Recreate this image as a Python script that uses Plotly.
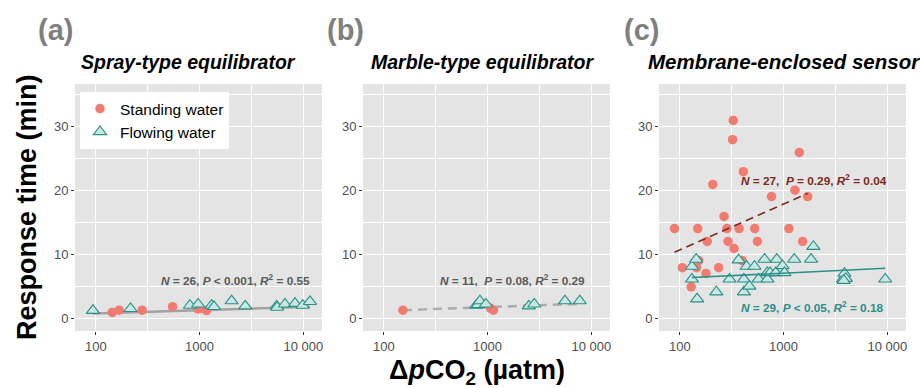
import numpy as np
import plotly.graph_objects as go

# ---------------- data ----------------
# Panel (a) Spray-type equilibrator
a_stand_x = [144, 168, 280, 550, 964, 1020, 1170]
a_stand_y = [1.0, 1.35, 1.35, 1.9, 1.55, 1.6, 1.3]
a_flow_x = [94, 216, 807, 970, 1306, 1380, 2037, 2760, 5530, 5600, 6650, 8310, 9860, 11590]
a_flow_y = [1.3, 1.6, 2.1, 2.3, 2.1, 1.9, 2.8, 2.0, 2.0, 1.8, 2.3, 2.4, 2.1, 2.7]
a_fit = (-0.18, 0.51)          # intercept, slope vs log10(x)

# Panel (b) Marble-type equilibrator
b_stand_x = [153, 1072, 1140]
b_stand_y = [1.35, 1.65, 1.35]
b_flow_x = [776, 809, 845, 964, 2497, 2820, 5570, 7740]
b_flow_y = [2.1, 2.2, 2.8, 2.3, 2.0, 2.3, 2.8, 2.8]
b_fit = (0.06, 0.59)

# Panel (c) Membrane-enclosed sensor
c_stand_x = [89, 106, 129, 145, 149, 152, 179, 184, 208, 237, 267, 285, 292, 323, 328,
             333, 373, 400, 410, 528, 560, 766, 1127, 1288, 1419, 1528, 1708]
c_stand_y = [14.1, 8.0, 5.0, 8.0, 14.1, 9.1, 7.1, 12.1, 21.0, 8.0, 16.0, 14.1, 12.1, 28.0, 31.0,
             11.0, 14.1, 9.1, 23.0, 14.1, 12.1, 19.1, 14.1, 20.1, 26.0, 12.1, 19.1]
c_flow_x = [131, 131, 144, 147, 225, 302, 369, 415, 415, 441, 468, 525, 574, 656, 696,
            700, 742, 841, 861, 977, 1020, 1268, 1841, 1938, 3724, 3863, 3990, 3800, 9550]
c_flow_y = [6.2, 8.2, 9.3, 3.1, 4.2, 6.2, 9.2, 6.2, 4.2, 8.2, 5.1, 8.2, 6.2, 9.3, 7.2,
            6.2, 7.2, 7.2, 9.3, 8.3, 7.2, 9.3, 9.3, 11.3, 6.2, 7.1, 6.3, 6.0, 6.2]
c_fit_stand = (-3.57, 7.17)
c_fit_flow = (4.8, 0.78)

x_tickvals = [100, 1000, 10000]
x_ticktext = ["100", "1000", "10 000"]
y_tickvals = [0, 10, 20, 30]

panel_titles = ["Spray-type equilibrator", "Marble-type equilibrator", "Membrane-enclosed sensor"]
panel_tags = ["(a)", "(b)", "(c)"]
stats_a = "<i>N</i> = 26, <i>P</i> &lt; 0.001, <i>R</i><sup>2</sup> = 0.55"
stats_b = "<i>N</i> = 11,  <i>P</i> = 0.08, <i>R</i><sup>2</sup> = 0.29"
stats_c_stand = "<i>N</i> = 27,  <i>P</i> = 0.29, <i>R</i><sup>2</sup> = 0.04"
stats_c_flow = "<i>N</i> = 29, <i>P</i> &lt; 0.05, <i>R</i><sup>2</sup> = 0.18"

# ---------------- style ----------------
FONT = "Liberation Sans, Arial, Helvetica, sans-serif"
RED = "#F07B70"
TEAL_LINE = "#2B8F88"
TEAL_FILL = "#C9E7E3"
W, H = 920, 388
px_x = lambda p: p / W
px_y = lambda p: 1 - p / H

xdomains = [(75, 322), (363, 610), (659, 906)]
ydom = [px_y(331), px_y(84)]

fig = go.Figure()


def fit_line(xs, coef):
    lx = np.log10(xs)
    lo, hi = lx.min(), lx.max()
    xx = np.array([lo, hi])
    return 10 ** xx, coef[0] + coef[1] * xx


def add_panel(i, sx, sy, fx, fy, legend):
    xa = "x" if i == 0 else f"x{i+1}"
    ya = "y" if i == 0 else f"y{i+1}"
    fig.add_trace(go.Scatter(x=sx, y=sy, mode="markers", name="Standing water",
                             marker=dict(symbol="circle", size=9.5, color=RED),
                             xaxis=xa, yaxis=ya, showlegend=legend, legendgroup="s"))
    fig.add_trace(go.Scatter(x=fx, y=fy, mode="markers", name="Flowing water",
                             marker=dict(symbol="triangle-up", size=11.5, color=TEAL_FILL,
                                         line=dict(color=TEAL_LINE, width=1.1)),
                             xaxis=xa, yaxis=ya, showlegend=legend, legendgroup="f"))
    return xa, ya


# regression lines first (under markers)
lx, ly = fit_line(np.array(a_stand_x + a_flow_x), a_fit)
fig.add_trace(go.Scatter(x=lx, y=ly, mode="lines", line=dict(color="rgba(150,150,150,0.85)", width=2.5),
                         xaxis="x", yaxis="y", showlegend=False))
lx, ly = fit_line(np.array(b_stand_x + b_flow_x), b_fit)
fig.add_trace(go.Scatter(x=lx, y=ly, mode="lines",
                         line=dict(color="rgba(165,165,165,0.9)", width=2.5, dash="9px,6px"),
                         xaxis="x2", yaxis="y2", showlegend=False))

add_panel(0, a_stand_x, a_stand_y, a_flow_x, a_flow_y, True)
add_panel(1, b_stand_x, b_stand_y, b_flow_x, b_flow_y, False)
add_panel(2, c_stand_x, c_stand_y, c_flow_x, c_flow_y, False)

lx, ly = fit_line(np.array(c_stand_x), c_fit_stand)
fig.add_trace(go.Scatter(x=lx, y=ly, mode="lines", line=dict(color="#7B2B20", width=1.6, dash="8px,5px"),
                         xaxis="x3", yaxis="y3", showlegend=False))
lx, ly = fit_line(np.array(c_flow_x), c_fit_flow)
fig.add_trace(go.Scatter(x=lx, y=ly, mode="lines", line=dict(color=TEAL_LINE, width=1.6),
                         xaxis="x3", yaxis="y3", showlegend=False))

axis_common = dict(showline=False, zeroline=False, ticks="outside", ticklen=3, tickwidth=1,
                   tickcolor="#333333", tickfont=dict(family=FONT, size=13, color="#4D4D4D"),
                   gridcolor="white", gridwidth=1.2, automargin=False)

layout = dict(width=W, height=H, margin=dict(l=0, r=0, t=0, b=0),
              paper_bgcolor="white", plot_bgcolor="#E4E4E4",
              font=dict(family=FONT),
              legend=dict(x=px_x(80), y=px_y(92), xanchor="left", yanchor="top",
                          bgcolor="white", font=dict(family=FONT, size=15.5, color="black"),
                          tracegroupgap=0, itemwidth=30))
for i, (d0, d1) in enumerate(xdomains):
    sfx = "" if i == 0 else str(i + 1)
    layout["xaxis" + sfx] = dict(axis_common, type="log", domain=[px_x(d0), px_x(d1)],
                                 range=[1.8, 4.18], tickvals=x_tickvals, ticktext=x_ticktext,
                                 anchor="y" + sfx,
                                 minor=dict(tickvals=[10 ** 2.5, 10 ** 3.5], showgrid=True,
                                            gridcolor="white", gridwidth=0.6, ticks=""))
    layout["yaxis" + sfx] = dict(axis_common, domain=ydom, range=[-1.9, 36.7],
                                 tickvals=y_tickvals, anchor="x" + sfx,
                                 minor=dict(tickvals=[5, 15, 25, 35], showgrid=True,
                                            gridcolor="white", gridwidth=0.6, ticks=""))
fig.update_layout(**layout)

ann = []
title_left = [79, 369, 646]
tag_center = [55, 345, 641]
title_size = [19.5, 19.5, 20.5]
for i in range(3):
    ann.append(dict(text=f"<b><i>{panel_titles[i]}</i></b>", xref="paper", yref="paper",
                    x=px_x(title_left[i]), y=px_y(62), xanchor="left", yanchor="middle",
                    showarrow=False, font=dict(family=FONT, size=title_size[i], color="black")))
    ann.append(dict(text=f"<b>{panel_tags[i]}</b>", xref="paper", yref="paper",
                    x=px_x(tag_center[i]), y=px_y(30), xanchor="center", yanchor="middle",
                    showarrow=False, font=dict(family=FONT, size=29, color="#7F7F7F")))

stat_specs = [("x", "y", 3.347, 6.04, stats_a, "#5A5A5A"),
              ("x2", "y2", 3.244, 6.04, stats_b, "#5A5A5A"),
              ("x3", "y3", 3.297, 21.56, stats_c_stand, "#7B2B20"),
              ("x3", "y3", 3.271, 1.77, stats_c_flow, "#2B8F88")]
for xr, yr, x, y, t, c in stat_specs:
    ann.append(dict(text=f"<b>{t}</b>", xref=xr, yref=yr, x=x, y=y, showarrow=False,
                    xanchor="center", yanchor="middle",
                    font=dict(family=FONT, size=11.8, color=c)))

ann.append(dict(text="<b>Response time (min)</b>", xref="paper", yref="paper",
                x=px_x(27), y=px_y(207), textangle=-90, showarrow=False,
                xanchor="center", yanchor="middle", font=dict(family=FONT, size=27, color="black")))
ann.append(dict(text="<b>Δ<i>p</i>CO<sub>2</sub> (µatm)</b>", xref="paper", yref="paper",
                x=px_x(477), y=px_y(372), showarrow=False,
                xanchor="center", yanchor="middle", font=dict(family=FONT, size=27, color="black")))
fig.update_layout(annotations=ann)

fig.write_html("out.html")
